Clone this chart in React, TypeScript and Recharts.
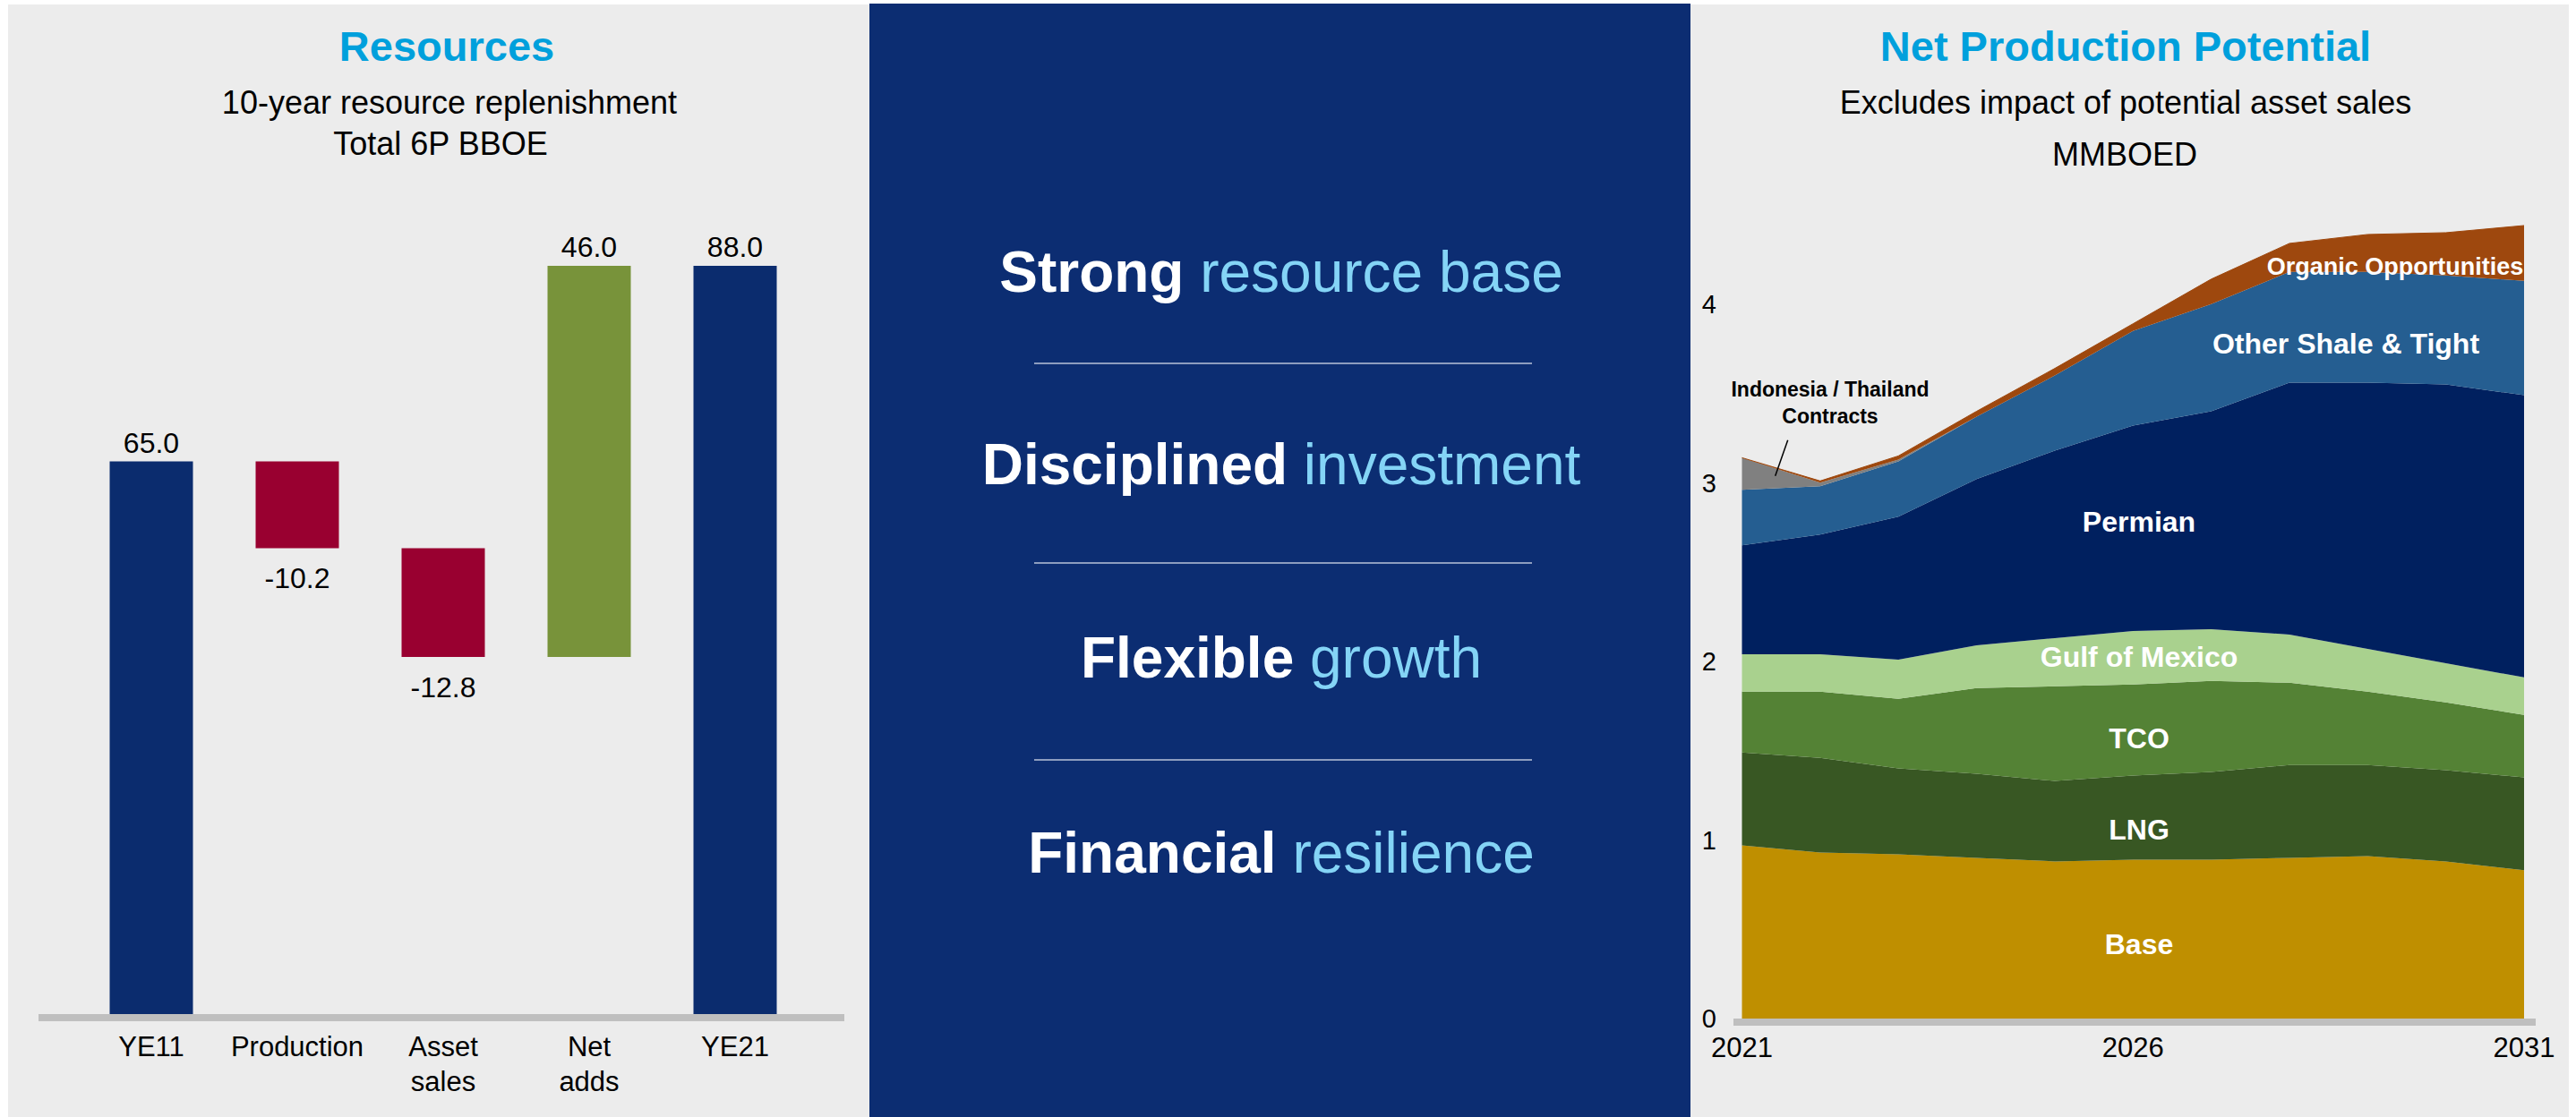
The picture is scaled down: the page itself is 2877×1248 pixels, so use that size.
import React from 'react';
import { BarChart, Bar, XAxis, YAxis, Cell, LabelList, AreaChart, Area } from 'recharts';

const FONT = '"Liberation Sans", Arial, Helvetica, sans-serif';

// waterfall: 10-year resource replenishment (BBOE)
const stepNames = ['YE11', 'Production', 'Asset\nsales', 'Net\nadds', 'YE21'];
const stepValues = [65.0, -10.2, -12.8, 46.0, 88.0];

// net production potential (MMBOED), thickness of each layer per year
const years = [2021, 2022, 2023, 2024, 2025, 2026, 2027, 2028, 2029, 2030, 2031];
const baseProd = [0.97, 0.93, 0.92, 0.9, 0.88, 0.89, 0.89, 0.9, 0.91, 0.88, 0.83];
const lngProd = [0.52, 0.53, 0.48, 0.47, 0.45, 0.47, 0.49, 0.52, 0.51, 0.51, 0.52];
const tcoProd = [0.34, 0.37, 0.39, 0.48, 0.53, 0.51, 0.51, 0.46, 0.41, 0.38, 0.35];
const gomProd = [0.21, 0.21, 0.22, 0.24, 0.27, 0.3, 0.29, 0.27, 0.24, 0.22, 0.21];
const permianProd = [0.61, 0.67, 0.8, 0.93, 1.05, 1.15, 1.22, 1.41, 1.49, 1.56, 1.58];
const shaleProd = [0.31, 0.27, 0.31, 0.35, 0.42, 0.53, 0.6, 0.62, 0.62, 0.61, 0.64];
const indoProd = [0.18, 0.02, 0.01, 0, 0, 0, 0, 0, 0, 0, 0];
const organicProd = [0, 0.01, 0.02, 0.03, 0.04, 0.04, 0.14, 0.16, 0.21, 0.24, 0.31];

const prodTicksX = [2021, 2026, 2031];
const prodTicksY = [0, 1, 2, 3, 4];

const layers = [
  { key: 'base', values: baseProd, color: '#bf8f00' },
  { key: 'lng', values: lngProd, color: '#385723' },
  { key: 'tco', values: tcoProd, color: '#548235' },
  { key: 'gom', values: gomProd, color: '#a9d18e' },
  { key: 'permian', values: permianProd, color: '#00205f' },
  { key: 'shale', values: shaleProd, color: '#255e91' },
  { key: 'indo', values: indoProd, color: '#808080' },
  { key: 'organic', values: organicProd, color: '#9e480e' },
];

const prodData = years.map((year, i) => {
  const row: Record<string, number> = { year };
  layers.forEach((l) => (row[l.key] = l.values[i]));
  return row;
});

let running = 0;
const waterfallData = stepNames.map((name, i) => {
  const v = stepValues[i];
  const isTotal = i === 0 || i === stepNames.length - 1;
  let base = 0;
  if (isTotal) {
    running = v;
  } else if (v < 0) {
    running += v;
    base = running;
  } else {
    base = running;
    running += v;
  }
  return { name, value: v, base, delta: Math.abs(v), kind: isTotal ? 'total' : v < 0 ? 'down' : 'up' };
});

const kindColor: Record<string, string> = { total: '#0b2c6e', down: '#990030', up: '#78933a' };

const StepTick = (props: any) => {
  const { x, y, payload } = props;
  const lines = String(payload.value).split('\n');
  return (
    <g>
      {lines.map((line, i) => (
        <text key={i} x={x} y={y + 47 + i * 39} textAnchor="middle" fontSize={31} fill="#000" fontFamily={FONT}>
          {line}
        </text>
      ))}
    </g>
  );
};

const StepLabel = (props: any) => {
  const { x, y, width, height, value } = props;
  const ty = value < 0 ? y + height + 45 : y - 10;
  return (
    <text x={x + width / 2} y={ty} textAnchor="middle" fontSize={32} fill="#000" fontFamily={FONT}>
      {Number(value).toFixed(1)}
    </text>
  );
};

const pillars = [
  ['Strong', 'resource base'],
  ['Disciplined', 'investment'],
  ['Flexible', 'growth'],
  ['Financial', 'resilience'],
];
const pillarBaselines = [326, 541, 757, 975];

const App = () => {
  return (
    <div style={{ position: 'relative', width: 2877, height: 1248, background: '#fff', fontFamily: FONT, overflow: 'hidden' }}>
      <style>{'body{margin:0}'}</style>
      <div style={{ position: 'absolute', left: 9, top: 5, width: 962, height: 1243, background: '#ececec' }} />
      <div style={{ position: 'absolute', left: 971, top: 4, width: 917, height: 1244, background: '#0c2d72' }} />
      <div style={{ position: 'absolute', left: 1888, top: 5, width: 981, height: 1243, background: '#ececec' }} />

      <div style={{ position: 'absolute', left: 0, top: 0 }}>
        <BarChart
          width={971}
          height={1248}
          data={waterfallData}
          barSize={93}
          margin={{ top: 183, right: 28, left: 43, bottom: 15 }}
        >
          <XAxis
            dataKey="name"
            height={100}
            padding={{ left: 44.5, right: 40.5 }}
            axisLine={{ stroke: '#bfbfbf', strokeWidth: 8, transform: 'translate(0,4)' }}
            tickLine={false}
            tickSize={0}
            tickMargin={0}
            interval={0}
            tick={<StepTick />}
          />
          <YAxis hide domain={[0, 100]} />
          <Bar dataKey="base" stackId="w" fill="transparent" barSize={93} isAnimationActive={false} />
          <Bar dataKey="delta" stackId="w" barSize={93} isAnimationActive={false}>
            {waterfallData.map((d, i) => (
              <Cell key={i} fill={kindColor[d.kind]} />
            ))}
            <LabelList dataKey="value" content={<StepLabel />} />
          </Bar>
        </BarChart>
      </div>

      <div style={{ position: 'absolute', left: 1888, top: 0 }}>
        <AreaChart width={981} height={1248} data={prodData} margin={{ top: 240, right: 37, left: 0, bottom: 30 }}>
          <XAxis
            dataKey="year"
            type="number"
            domain={[2021, 2031]}
            ticks={prodTicksX}
            padding={{ left: 9.5, right: 13 }}
            height={80}
            axisLine={{ stroke: '#bfbfbf', strokeWidth: 8, transform: 'translate(0,4)' }}
            tickLine={false}
            tickSize={0}
            tickMargin={21}
            tick={{ fontSize: 31, fill: '#000', fontFamily: FONT }}
          />
          <YAxis
            width={48}
            domain={[0, 4.5]}
            ticks={prodTicksY}
            axisLine={false}
            tickLine={false}
            tickSize={0}
            tickMargin={19}
            tick={{ fontSize: 29, fill: '#000', fontFamily: FONT }}
          />
          {layers.map((l) => (
            <Area
              key={l.key}
              type="linear"
              dataKey={l.key}
              stackId="p"
              fill={l.color}
              fillOpacity={1}
              stroke={l.key === 'organic' ? l.color : 'none'}
              strokeWidth={1}
              dot={false}
              activeDot={false}
              isAnimationActive={false}
            />
          ))}
        </AreaChart>
      </div>

      <svg width={2877} height={1248} style={{ position: 'absolute', left: 0, top: 0, pointerEvents: 'none' }} fontFamily={FONT}>
        {/* left panel titles */}
        <text x={499} y={67.5} textAnchor="middle" fontSize={47} fontWeight="bold" fill="#00a0dc">Resources</text>
        <text x={502} y={126.7} textAnchor="middle" fontSize={36} fill="#000">10-year resource replenishment</text>
        <text x={492} y={173.3} textAnchor="middle" fontSize={36} fill="#000">Total 6P BBOE</text>

        {/* middle panel */}
        {pillars.map(([bold, rest], i) => (
          <text key={i} x={1431} y={pillarBaselines[i]} textAnchor="middle" fontSize={64}>
            <tspan fontWeight="bold" fill="#ffffff">{bold}</tspan>
            <tspan fill="#84d4f6">{' ' + rest}</tspan>
          </text>
        ))}
        {[406, 629, 849].map((y) => (
          <line key={y} x1={1155} x2={1711} y1={y} y2={y} stroke="#b9c3da" strokeWidth={1.5} />
        ))}

        {/* right panel titles */}
        <text x={2374} y={67.5} textAnchor="middle" fontSize={47} fontWeight="bold" fill="#00a0dc">Net Production Potential</text>
        <text x={2374} y={126.7} textAnchor="middle" fontSize={36} fill="#000">Excludes impact of potential asset sales</text>
        <text x={2373} y={185} textAnchor="middle" fontSize={36} fill="#000">MMBOED</text>

        {/* area labels */}
        <g fontWeight="bold" fill="#fff" textAnchor="middle">
          <text x={2675} y={306.7} fontSize={27}>Organic Opportunities</text>
          <text x={2620} y={394.5} fontSize={32}>Other Shale &amp; Tight</text>
          <text x={2389} y={593.5} fontSize={32}>Permian</text>
          <text x={2389} y={744.5} fontSize={32}>Gulf of Mexico</text>
          <text x={2389} y={835.5} fontSize={32}>TCO</text>
          <text x={2389} y={937.5} fontSize={32}>LNG</text>
          <text x={2389} y={1065.5} fontSize={32}>Base</text>
        </g>
        <g fontWeight="bold" fill="#000" textAnchor="middle" fontSize={23}>
          <text x={2044} y={443.3}>Indonesia / Thailand</text>
          <text x={2044} y={473.2}>Contracts</text>
        </g>
        <line x1={1996.7} y1={491.7} x2={1982.7} y2={531.7} stroke="#000" strokeWidth={1.5} />
      </svg>
    </div>
  );
};

export default App;
